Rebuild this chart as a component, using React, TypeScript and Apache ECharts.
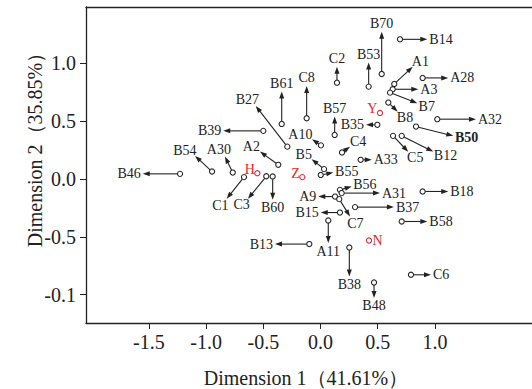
import React, { useEffect, useRef } from "react";
import * as echarts from "echarts";

// Loadings: point (open circle) and arrow tip, in data units
const arrowNames = [
  "B70", "B14", "C2", "B53", "A1", "A28", "A3", "B7", "B8", "A32", "B50", "B12", "C5",
  "B57", "B35", "C4", "A10", "B5", "B55", "A33", "B56", "A31", "A9", "C7", "B15", "B37",
  "B18", "B58", "A11", "B13", "B38", "C6", "B48", "B46", "B54", "A30", "A2", "C1", "C3",
  "B60", "B61", "C8", "B27", "B39",
];
const pointX = [
  0.535, 0.695, 0.144, 0.421, 0.645, 0.893, 0.631, 0.608, 0.593, 1.021, 0.835, 0.71, 0.634,
  0.124, 0.497, 0.188, 0.004, 0.031, 0.002, 0.351, 0.17, 0.185, 0.127, 0.164, 0.17, 0.302,
  0.893, 0.71, 0.068, -0.098, 0.252, 0.791, 0.468, -1.228, -0.948, -0.767, -0.369, -0.669, -0.474,
  -0.418, -0.339, -0.121, -0.29, -0.5,
];
const pointY = [
  0.905, 1.204, 0.83, 0.796, 0.819, 0.871, 0.773, 0.744, 0.658, 0.515, 0.451, 0.371, 0.371,
  0.379, 0.466, 0.227, 0.289, 0.084, 0.034, 0.164, -0.095, -0.123, -0.153, -0.175, -0.291, -0.244,
  -0.109, -0.368, -0.359, -0.563, -0.592, -0.828, -0.894, 0.043, 0.063, 0.054, 0.121, 0.015, 0.022,
  0.02, 0.474, 0.523, 0.278, 0.414,
];
const tipX = [
  0.535, 0.934, 0.144, 0.421, 0.806, 1.117, 0.855, 0.846, 0.675, 1.359, 1.161, 0.986, 0.767,
  0.124, 0.398, 0.258, -0.074, -0.077, 0.112, 0.448, 0.273, 0.52, -0.019, 0.258, 0.002, 0.642,
  1.117, 0.934, 0.068, -0.398, 0.252, 0.966, 0.468, -1.554, -1.097, -0.835, -0.529, -0.82, -0.634,
  -0.418, -0.339, -0.121, -0.566, -0.85,
];
const tipY = [
  1.27, 1.204, 0.968, 1.003, 0.968, 0.871, 0.773, 0.653, 0.58, 0.515, 0.371, 0.235, 0.233,
  0.537, 0.466, 0.278, 0.341, 0.17, 0.054, 0.164, -0.066, -0.123, -0.153, -0.325, -0.291, -0.244,
  -0.109, -0.368, -0.554, -0.563, -0.842, -0.828, -1.028, 0.043, 0.198, 0.192, 0.235, -0.172, -0.172,
  -0.181, 0.753, 0.802, 0.629, 0.414,
];
const boldNames = ["B50"];

// Supplementary (red) points
const refNames = ["H", "Z", "Y", "N"];
const refX = [-0.552, -0.159, 0.52, 0.424];
const refY = [0.049, 0.015, 0.569, -0.532];

// Axes
const xTicks = [-1.5, -1.0, -0.5, 0.0, 0.5, 1.0];
const xTickLabels = ["-1.5", "-1.0", "-0.5", "0.0", "0.5", "1.0"];
const yTicks = [-1.0, -0.5, 0.0, 0.5, 1.0];
const yTickLabels = ["-0.1", "-0.5", "0.0", "0.5", "1.0"];
const xName = "Dimension 1（41.61%）";
const yName = "Dimension 2（35.85%）";

const FONT = "'Liberation Serif', 'Times New Roman', serif";
const INK = "#222";
const RED = "#e8262b";

let measureCtx: CanvasRenderingContext2D | null = null;
function textWidth(t: string, font: string): number {
  if (!measureCtx) measureCtx = document.createElement("canvas").getContext("2d");
  if (!measureCtx) return t.length * 7;
  measureCtx.font = font;
  return measureCtx.measureText(t).width;
}

function lookup(ticks: number[], labels: string[]) {
  return (v: number) => {
    const i = ticks.findIndex((t) => Math.abs(t - v) < 1e-9);
    return i >= 0 ? labels[i] : "";
  };
}

export default function App() {
  const ref = useRef<HTMLDivElement>(null);
  useEffect(() => {
    if (!ref.current) return;
    const chart = echarts.init(ref.current, undefined, { renderer: "svg" });
    const refRight = new Set(["N"]);
    const option: any = {
      animation: false,
      backgroundColor: "#fff",
      grid: { left: 86, top: 7, right: 0, bottom: 66 },
      xAxis: [
        {
          type: "value",
          min: -2.05,
          max: 1.849,
          splitLine: { show: false },
          axisLine: { show: true, onZero: false, lineStyle: { color: INK, width: 1.3 } },
          axisTick: { show: true, length: 6, customValues: xTicks, lineStyle: { color: INK, width: 1 } },
          axisLabel: {
            customValues: xTicks,
            formatter: lookup(xTicks, xTickLabels),
            fontFamily: FONT,
            fontSize: 20,
            color: INK,
            margin: 9,
          },
        },
        {
          type: "value",
          position: "top",
          min: -2.05,
          max: 1.849,
          splitLine: { show: false },
          axisLine: { show: true, onZero: false, lineStyle: { color: INK, width: 1.3 } },
          axisTick: { show: false },
          axisLabel: { show: false },
        },
      ],
      yAxis: {
        type: "value",
        min: -1.244,
        max: 1.483,
        splitLine: { show: false },
        axisLine: { show: true, onZero: false, lineStyle: { color: INK, width: 1.3 } },
        axisTick: { show: true, length: 6, customValues: yTicks, lineStyle: { color: INK, width: 1 } },
        axisLabel: {
          customValues: yTicks,
          formatter: lookup(yTicks, yTickLabels),
          fontFamily: FONT,
          fontSize: 20,
          color: INK,
          margin: 10,
        },
      },
      graphic: [
        {
          type: "text",
          x: 306,
          y: 378,
          style: { text: xName, fontFamily: FONT, fontSize: 20, fill: INK, align: "center", verticalAlign: "middle" },
        },
        {
          type: "text",
          x: 35,
          y: 145,
          rotation: Math.PI / 2,
          style: { text: yName, fontFamily: FONT, fontSize: 20, fill: INK, align: "center", verticalAlign: "middle" },
        },
      ],
      series: [
        {
          type: "custom",
          name: "loadings",
          coordinateSystem: "cartesian2d",
          xAxisIndex: 0,
          data: arrowNames.map((n, i) => [pointX[i], pointY[i], tipX[i], tipY[i]]),
          encode: { x: [0, 2], y: [1, 3] },
          renderItem: (params: any, api: any) => {
            const i = params.dataIndex;
            const name = arrowNames[i];
            const p0 = api.coord([pointX[i], pointY[i]]);
            const p1 = api.coord([tipX[i], tipY[i]]);
            const dx = p1[0] - p0[0];
            const dy = p1[1] - p0[1];
            const len = Math.hypot(dx, dy) || 1;
            const ux = dx / len;
            const uy = dy / len;
            const R = 2.6;
            const AL = 7;
            const AW = 5;
            const bx = p1[0] - ux * AL;
            const by = p1[1] - uy * AL;
            const nx = -uy;
            const ny = ux;
            const bold = boldNames.includes(name);
            const font = `${bold ? "bold " : ""}14px ${FONT}`;
            const hw = textWidth(name, font) / 2;
            const hh = 6;
            const lx = p1[0] + ux * (hw + 2);
            const ly = p1[1] + uy * (hh + 2);
            return {
              type: "group",
              children: [
                {
                  type: "line",
                  shape: { x1: p0[0] + ux * R, y1: p0[1] + uy * R, x2: bx + ux, y2: by + uy },
                  style: { stroke: INK, lineWidth: 1.1 },
                },
                {
                  type: "polygon",
                  shape: {
                    points: [
                      [p1[0], p1[1]],
                      [bx + (nx * AW) / 2, by + (ny * AW) / 2],
                      [bx - (nx * AW) / 2, by - (ny * AW) / 2],
                    ],
                  },
                  style: { fill: INK },
                },
                {
                  type: "circle",
                  shape: { cx: p0[0], cy: p0[1], r: R },
                  style: { fill: "#fff", stroke: INK, lineWidth: 1.1 },
                },
                {
                  type: "text",
                  x: lx,
                  y: ly,
                  style: {
                    text: name,
                    fontFamily: FONT,
                    fontSize: 14,
                    fontWeight: bold ? "bold" : "normal",
                    fill: INK,
                    align: "center",
                    verticalAlign: "middle",
                  },
                },
              ],
            };
          },
        },
        {
          type: "custom",
          name: "supplementary",
          coordinateSystem: "cartesian2d",
          data: refNames.map((n, i) => [refX[i], refY[i]]),
          encode: { x: 0, y: 1 },
          renderItem: (params: any, api: any) => {
            const i = params.dataIndex;
            const name = refNames[i];
            const p = api.coord([refX[i], refY[i]]);
            const right = refRight.has(name);
            return {
              type: "group",
              children: [
                {
                  type: "circle",
                  shape: { cx: p[0], cy: p[1], r: 2.6 },
                  style: { fill: "#fff", stroke: RED, lineWidth: 1.1 },
                },
                {
                  type: "text",
                  x: right ? p[0] + 3.5 : p[0] - 2.5,
                  y: right ? p[1] : p[1] - 4,
                  style: {
                    text: name,
                    fontFamily: FONT,
                    fontSize: 14,
                    fill: RED,
                    align: right ? "left" : "right",
                    verticalAlign: "middle",
                  },
                },
              ],
            };
          },
        },
      ],
    };
    chart.setOption(option);
    return () => chart.dispose();
  }, []);
  return (
    <div
      ref={ref}
      style={{ position: "fixed", left: 0, top: 0, width: 532, height: 389, background: "#fff" }}
    />
  );
}
